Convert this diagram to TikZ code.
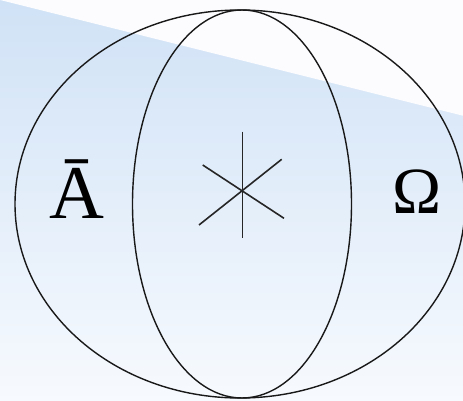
\documentclass[tikz,border=0pt]{standalone}
\usepackage{fontspec}
\setmainfont{Liberation Serif}
\newfontfamily\tms{Liberation Serif}
\definecolor{bgtop}{RGB}{208,226,246}
\definecolor{bgbot}{RGB}{247,250,254}
\definecolor{bandwhite}{RGB}{252,252,254}
\begin{document}
\begin{tikzpicture}[x=1pt,y=-1pt,
  curve/.style={draw=black!90,line width=1.4pt},
  stroke/.style={draw=black!85,line width=1.6pt},
  letter/.style={anchor=base,inner sep=0pt,text=black}]
\useasboundingbox (0,0) rectangle (463,401);
% background
\shade[top color=bgtop,bottom color=bgbot] (0,0) rectangle (463,401);
\fill[bandwhite] (0,-1) -- (464,-1) -- (464,116) -- (0,0) -- cycle;
% ellipses
\draw[curve] (240,204) ellipse [x radius=225, y radius=194];
\draw[curve] (242,204) ellipse [x radius=109.5, y radius=194];
% asterisk
\coordinate (c) at (242.3,190.7);
\coordinate (t) at (242.3,131.7);
\coordinate (b) at (242.3,238);
\coordinate (d1a) at (202.7,165);
\coordinate (d1b) at (284,218.3);
\coordinate (d2a) at (199,225);
\coordinate (d2b) at (281.7,159.3);
\draw[stroke] (t) -- (b);
\draw[stroke] (d1a) -- (d1b);
\draw[stroke] (d2a) -- (d2b);
% labels
\node[letter,font=\tms\fontsize{76}{76}\selectfont] (abar) at (77,218) {Ā};
\node[letter,font=\tms\fontsize{66}{66}\selectfont] (omega) at (417,213) {Ω};
\end{tikzpicture}
\end{document}
